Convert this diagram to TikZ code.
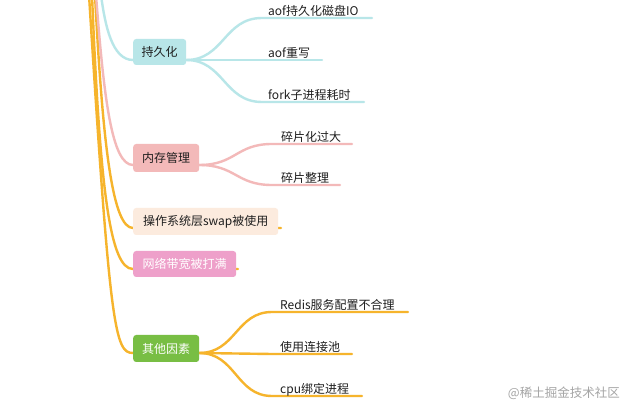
\documentclass[tikz,border=0pt]{standalone}
\usepackage{fontspec}
\setmainfont{Noto Sans CJK SC}
\usetikzlibrary{backgrounds}
\definecolor{cy}{RGB}{184,230,232}
\definecolor{pk}{RGB}{243,185,185}
\definecolor{orn}{RGB}{246,180,44}
\definecolor{peach}{RGB}{252,235,222}
\definecolor{rose}{RGB}{238,160,202}
\definecolor{grn}{RGB}{120,190,68}
\definecolor{txt}{RGB}{30,30,30}
\definecolor{wm}{RGB}{165,165,165}
\tikzset{
  topic/.style={rounded corners=3pt, anchor=west, minimum height=26pt, inner xsep=0pt, inner ysep=0pt, font=\fontsize{12}{14}\selectfont, text=txt},
  leaf/.style={anchor=base west, inner sep=0pt, font=\fontsize{12}{14}\selectfont, text=txt},
  br/.style={line width=2.4pt, line cap=round},
}
\begin{document}
\begin{tikzpicture}[x=1pt,y=-1pt]
\useasboundingbox (0,0) rectangle (625,409);
\clip (0,0) rectangle (625,409);

% main topics
\node[topic, fill=cy, minimum width=53pt] (p1) at (133,52) {持久化};
\node[topic, fill=pk, minimum width=66pt, minimum height=28pt] (p2) at (133,158) {内存管理};
\node[topic, fill=peach, minimum width=145pt, minimum height=27pt] (p3) at (133,221.5) {操作系统层swap被使用};
\node[topic, fill=rose, minimum width=103pt, text=white] (p4) at (133,264) {网络带宽被打满};
\node[topic, fill=grn, minimum width=66pt, minimum height=27pt, text=white] (p5) at (133,348.5) {其他因素};

% ports
\coordinate (r1) at (101,-5);
\coordinate (r2) at (96,-5);
\coordinate (r3) at (95,-5);
\coordinate (r4) at (92,-5);
\coordinate (r5) at (89,-5);
\coordinate (p1in) at (133,60);  \coordinate (p1out) at (186,60);
\coordinate (p2in) at (133,165); \coordinate (p2out) at (199,165);
\coordinate (p3in) at (133,228); \coordinate (p3end) at (281,228);
\coordinate (p4in) at (133,269); \coordinate (p4end) at (238,269);
\coordinate (p5in) at (133,353); \coordinate (p5out) at (199,353);

% leaves
\coordinate (c11s) at (262,18);  \coordinate (c11e) at (372,18);
\coordinate (c12s) at (262,60);  \coordinate (c12e) at (322,60);
\coordinate (c13s) at (262,102); \coordinate (c13e) at (364,102);
\coordinate (c21s) at (272,144); \coordinate (c21e) at (352,144);
\coordinate (c22s) at (272,185); \coordinate (c22e) at (340,185);
\coordinate (c51s) at (272,312); \coordinate (c51e) at (408,312);
\coordinate (c52s) at (272,354); \coordinate (c52e) at (352,354);
\coordinate (c53s) at (272,396); \coordinate (c53e) at (362,396);

\node[leaf] (c11) at (268,15.5) {aof持久化磁盘IO};
\node[leaf] (c12) at (268,57.5) {aof重写};
\node[leaf] (c13) at (268,99.5) {fork子进程耗时};
\node[leaf] (c21) at (281,141.5) {碎片化过大};
\node[leaf] (c22) at (281,182.5) {碎片整理};
\node[leaf] (c51) at (280,309.5) {Redis服务配置不合理};
\node[leaf] (c52) at (280,351.5) {使用连接池};
\node[leaf] (c53) at (280,393.5) {cpu绑定进程};

\node[anchor=east, inner sep=0pt, text=wm, font=\fontsize{12.5}{14}\selectfont] (wmk) at (620,393) {@稀土掘金技术社区};

\begin{scope}[on background layer]
  \fill[white] (0,0) rectangle (625,409);
  % trunk branches
  \draw[br, orn] (r5) .. controls (110,330) and (115,353) .. (p5in) -- (p5out);
  \draw[br, orn] (r4) .. controls (100,190) and (110,269) .. (p4in) -- (p4end);
  \draw[br, orn] (r3) .. controls (103,150) and (113,228) .. (p3in) -- (p3end);
  \draw[br, pk]  (r2) .. controls (104,100) and (112,165) .. (p2in) -- (p2out);
  \draw[br, cy]  (r1) .. controls (105,25) and (112,60) .. (p1in) -- (p1out);
  % sub branches
  \draw[br, cy] (p1out) .. controls (224,60) and (224,18) .. (c11s) -- (c11e);
  \draw[br, cy] (p1out) -- (c12s) -- (c12e);
  \draw[br, cy] (p1out) .. controls (224,60) and (224,102) .. (c13s) -- (c13e);
  \draw[br, pk] (p2out) .. controls (236,165) and (236,144) .. (c21s) -- (c21e);
  \draw[br, pk] (p2out) .. controls (236,165) and (236,185) .. (c22s) -- (c22e);
  \draw[br, orn] (p5out) .. controls (236,353) and (236,312) .. (c51s) -- (c51e);
  \draw[br, orn] (p5out) .. controls (236,353) and (236,354) .. (c52s) -- (c52e);
  \draw[br, orn] (p5out) .. controls (236,353) and (236,396) .. (c53s) -- (c53e);
\end{scope}
\end{tikzpicture}
\end{document}
